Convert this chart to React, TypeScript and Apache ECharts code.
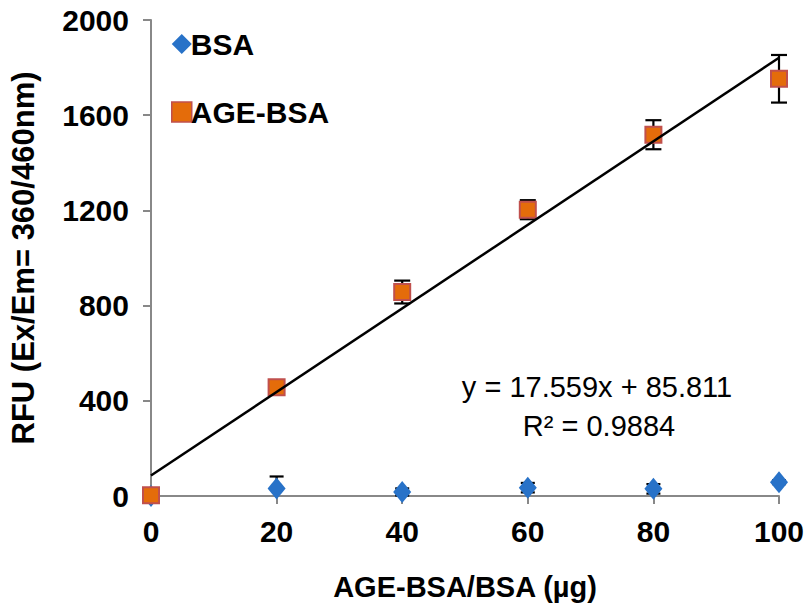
import React, { useEffect, useRef } from "react";
import * as echarts from "echarts";

const xValues = [0, 20, 40, 60, 80, 100];
const bsaValues = [0, 32, 17, 35, 30, 58];
const bsaErrors = [0, 50, 15, 20, 20, 8];
const ageValues = [3, 457, 857, 1203, 1518, 1753];
const ageErrors = [0, 12, 48, 40, 61, 100];
const trendSlope = 17.559;
const trendIntercept = 85.811;
const trendX = [0, 100];
const xTicks = { min: 0, max: 100, interval: 20 };
const yTicks = { min: 0, max: 2000, interval: 400 };
const eqText = "y = 17.559x + 85.811";
const r2Text = "R² = 0.9884";

const FONT = "'Liberation Sans', Arial, sans-serif";

function errRender(capHalf: number) {
  return (params: any, api: any) => {
    const x = api.value(0);
    const y = api.value(1);
    const e = api.value(2);
    if (!e) return { type: "group", children: [] };
    const low = y - e;
    const clipped = low < yTicks.min;
    const top = api.coord([x, y + e]);
    const bot = api.coord([x, clipped ? yTicks.min : low]);
    const st = { stroke: "#000", lineWidth: 2.2 };
    const children: any[] = [
      { type: "line", shape: { x1: top[0], y1: top[1], x2: bot[0], y2: bot[1] }, style: st },
      { type: "line", shape: { x1: top[0] - capHalf, y1: top[1], x2: top[0] + capHalf, y2: top[1] }, style: st },
    ];
    if (!clipped) {
      children.push({ type: "line", shape: { x1: bot[0] - capHalf, y1: bot[1], x2: bot[0] + capHalf, y2: bot[1] }, style: st });
    }
    return { type: "group", children };
  };
}

export default function App() {
  const ref = useRef<HTMLDivElement>(null);
  useEffect(() => {
    if (!ref.current) return;
    const chart = echarts.init(ref.current, undefined, { renderer: "svg" });
    const option: any = {
      animation: false,
      backgroundColor: "#fff",
      textStyle: { fontFamily: FONT },
      grid: { left: 149, right: 33, top: 20, bottom: 109 },
      legend: {
        data: [
          { name: "BSA", itemStyle: { color: "#2872C8", opacity: 1 } },
          { name: "AGE-BSA", itemStyle: { color: "#E46C0A", borderColor: "#C0504D", borderWidth: 1.5, opacity: 1 } },
        ],
        orient: "vertical",
        left: 166,
        top: 24,
        itemGap: 38,
        itemWidth: 20,
        itemHeight: 20,
        textStyle: { fontSize: 30, fontWeight: "bold", color: "#000", fontFamily: FONT, padding: [0, 0, 0, -6] },
      },
      xAxis: {
        type: "value",
        ...xTicks,
        name: "AGE-BSA/BSA (µg)",
        nameLocation: "middle",
        nameGap: 76,
        nameTextStyle: { fontSize: 29, fontWeight: "bold", color: "#000", fontFamily: FONT },
        axisLine: { lineStyle: { color: "#888", width: 2 } },
        axisTick: { show: true, inside: false, length: 8, lineStyle: { color: "#888", width: 2 } },
        axisLabel: { fontSize: 30, fontWeight: "bold", color: "#000", margin: 20, fontFamily: FONT, formatter: (v: number) => String(v) },
        splitLine: { show: false },
      },
      yAxis: {
        type: "value",
        ...yTicks,
        name: "RFU (Ex/Em= 360/460nm)",
        nameLocation: "middle",
        nameGap: 112,
        nameTextStyle: { fontSize: 31, fontWeight: "bold", color: "#000", fontFamily: FONT },
        axisLine: { show: true, lineStyle: { color: "#888", width: 2 } },
        axisTick: { show: true, inside: false, length: 8, lineStyle: { color: "#888", width: 2 } },
        axisLabel: { fontSize: 30, fontWeight: "bold", color: "#000", margin: 22, fontFamily: FONT, formatter: (v: number) => String(v) },
        splitLine: { show: false },
      },
      series: [
        {
          name: "BSA-err",
          type: "custom",
          renderItem: errRender(7),
          data: xValues.map((x, i) => [x, bsaValues[i], bsaErrors[i]]),
          encode: { x: 0, y: 1 },
          z: 2,
          clip: false,
        },
        {
          name: "BSA",
          type: "scatter",
          symbol: "diamond",
          symbolSize: [18, 22],
          itemStyle: { color: "#2872C8", opacity: 1 },
          data: xValues.map((x, i) => [x, bsaValues[i]]),
          z: 3,
        },
        {
          name: "AGE-err",
          type: "custom",
          renderItem: errRender(8),
          data: xValues.map((x, i) => [x, ageValues[i], ageErrors[i]]),
          encode: { x: 0, y: 1 },
          z: 4,
          clip: false,
        },
        {
          name: "AGE-BSA",
          type: "scatter",
          symbol: "rect",
          symbolSize: 16,
          itemStyle: { color: "#E46C0A", borderColor: "#C0504D", borderWidth: 2, opacity: 1 },
          data: xValues.map((x, i) => [x, ageValues[i]]),
          z: 5,
        },
        {
          name: "trend",
          type: "line",
          symbol: "none",
          lineStyle: { color: "#000", width: 2.5 },
          data: trendX.map((x) => [x, trendSlope * x + trendIntercept]),
          z: 6,
        },
      ],
      graphic: [
        {
          type: "text",
          x: 597,
          y: 387,
          style: { text: eqText, fontSize: 29, fill: "#000", textAlign: "center", textVerticalAlign: "middle", fontFamily: FONT },
        },
        {
          type: "text",
          x: 599,
          y: 426,
          style: { text: r2Text, fontSize: 29, fill: "#000", textAlign: "center", textVerticalAlign: "middle", fontFamily: FONT },
        },
      ],
    };
    chart.setOption(option);
    return () => chart.dispose();
  }, []);
  return <div ref={ref} style={{ position: "fixed", left: 0, top: 0, width: 812, height: 606 }} />;
}
